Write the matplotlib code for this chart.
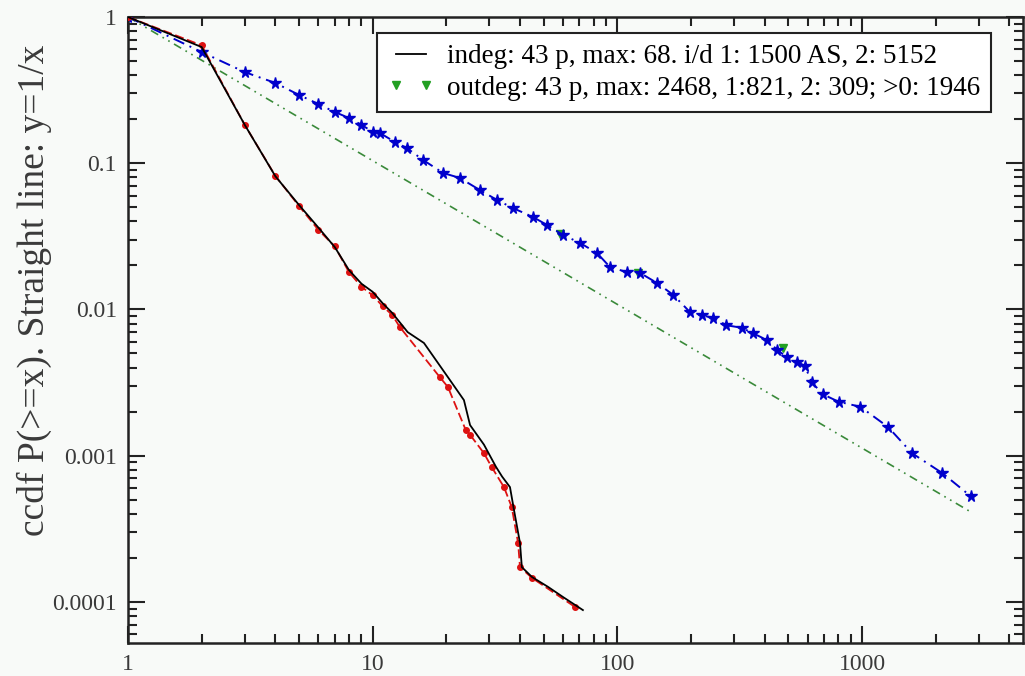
import matplotlib
matplotlib.use("Agg")
import matplotlib.pyplot as plt
from matplotlib.ticker import FixedLocator, FixedFormatter, LogLocator, NullFormatter

plt.rcParams['font.family'] = ['Liberation Serif', 'DejaVu Serif']

# ---- data ----
indeg_x = [1, 2, 3, 4, 5, 6, 7, 8, 9, 10, 11, 12, 13.9, 16.2, 21.1, 23.6, 25.0, 28.5,
           31.9, 33.8, 36.4, 37.8, 40.0, 40.7, 44.8, 52.0, 60.0, 72.3]
indeg_y = [1, 0.623, 0.183, 0.0816, 0.0518, 0.0363, 0.0267, 0.0186, 0.0150, 0.0132,
           0.0110, 0.0095, 0.0070, 0.0059, 0.00314, 0.0024, 0.00162, 0.00119,
           0.00084, 0.00072, 0.00061, 0.000426, 0.000253, 0.000173, 0.000148,
           0.000127, 0.000108, 0.000088]

indeg2_x = [1, 2, 3, 4, 5, 6, 7, 8, 9, 10, 11, 12, 12.9, 18.8, 20.3, 24.0, 25.0, 28.5,
            30.6, 34.4, 37.0, 39.3, 40.0, 44.8, 67.4]
indeg2_y = [1, 0.64, 0.183, 0.082, 0.051, 0.035, 0.027, 0.018, 0.0143, 0.0125, 0.0105,
            0.0092, 0.0076, 0.00345, 0.00295, 0.0015, 0.00139, 0.00104, 0.00084,
            0.00061, 0.000446, 0.000253, 0.000173, 0.000146, 0.000092]

outdeg2_x = [1, 2, 3, 4, 5, 6, 7, 8, 9, 10, 10.7, 12.3, 13.8, 16.1, 19.4, 22.7, 27.4,
             32.2, 37.4, 45.2, 51.6, 60.0, 70.4, 82.6, 93.3, 109.5, 123.7, 145, 169,
             198, 222, 245, 279, 322, 357, 407, 450, 494, 543, 584, 624, 692, 802, 985,
             1278, 1601, 2130, 2775]
outdeg2_y = [1, 0.576, 0.42, 0.354, 0.293, 0.254, 0.224, 0.204, 0.183, 0.164, 0.161,
             0.140, 0.127, 0.105, 0.0858, 0.0793, 0.0656, 0.0561, 0.0494, 0.0429,
             0.0378, 0.0323, 0.0285, 0.0243, 0.0195, 0.0180, 0.0178, 0.0152, 0.0126,
             0.0096, 0.0091, 0.0088, 0.0078, 0.0075, 0.0069, 0.0062, 0.0053, 0.0047,
             0.0044, 0.0041, 0.00317, 0.00263, 0.00234, 0.00216, 0.00157, 0.00104,
             0.00076, 0.00053]

outdeg_x = [58.3, 121.4, 475]
outdeg_y = [0.033, 0.0178, 0.00546]

ref_x = [1, 2800]
ref_y = [1, 4.1e-4]

x_ticks = [1, 10, 100, 1000]
x_ticklabels = ['1', '10', '100', '1000']
y_ticks = [1, 0.1, 0.01, 0.001, 0.0001]
y_ticklabels = ['1', '0.1', '0.01', '0.001', '0.0001']

label_indeg = 'indeg: 43 p, max: 68. i/d 1: 1500 AS, 2: 5152'
label_outdeg = 'outdeg: 43 p, max: 2468, 1:821, 2: 309; >0: 1946'
ylabel = 'ccdf P(>=x). Straight line: y=1/x'

# ---- figure ----
bg = '#f8faf8'
fig = plt.figure(figsize=(10.25, 6.76), dpi=100, facecolor=bg)
ax = fig.add_axes([128 / 1025, 33 / 676, 895 / 1025, 626 / 676])
ax.set_facecolor(bg)

ax.plot(ref_x, ref_y, color='#3a8a3a', lw=1.2, ls=(0, (5, 3, 1, 3, 1, 3)), zorder=2)
ax.plot(outdeg_x, outdeg_y, ls='none', marker='v', ms=6, color='#22a022',
        label=label_outdeg, zorder=3)
ax.plot(outdeg2_x, outdeg2_y, color='#0000cc', lw=1.4, ls=(0, (6, 3, 1, 3)),
        marker='*', ms=8.5, zorder=4)
ax.plot(indeg2_x, indeg2_y, color='#dd1111', lw=1.3, ls=(0, (5, 2)),
        marker='o', ms=4, zorder=5)
ax.plot(indeg_x, indeg_y, color='black', lw=1.3, ls='-', zorder=6, label=label_indeg)

ax.set_xscale('log')
ax.set_yscale('log')
ax.set_xlim(1, 4548)
ax.set_ylim(5.24e-5, 1)

ax.xaxis.set_major_locator(FixedLocator(x_ticks))
ax.xaxis.set_major_formatter(FixedFormatter(x_ticklabels))
ax.yaxis.set_major_locator(FixedLocator(y_ticks))
ax.yaxis.set_major_formatter(FixedFormatter(y_ticklabels))
ax.xaxis.set_minor_locator(LogLocator(base=10, subs=range(2, 10), numticks=20))
ax.yaxis.set_minor_locator(LogLocator(base=10, subs=range(2, 10), numticks=20))
ax.xaxis.set_minor_formatter(NullFormatter())
ax.yaxis.set_minor_formatter(NullFormatter())

ax.tick_params(which='both', direction='in', top=True, right=True, width=1.5,
               color='#222222', labelsize=17, labelcolor='#3a3a3a', pad=8)
ax.tick_params(which='major', length=12)
ax.tick_params(which='minor', length=6.5)
for s in ax.spines.values():
    s.set_linewidth(1.8)
    s.set_color('#222222')

ax.set_ylabel(ylabel, fontsize=27, color='#3a3a3a')
ax.yaxis.set_label_coords(-0.085, 0.564)

h, l = ax.get_legend_handles_labels()
leg = ax.legend(h[::-1], l[::-1], loc='upper left', bbox_to_anchor=(0.278, 0.974),
                borderaxespad=0, frameon=True, fancybox=False, framealpha=1,
                edgecolor='#222222', facecolor='white', fontsize=19.5,
                handlelength=1.7, handletextpad=0.5, numpoints=2,
                borderpad=0.4, labelspacing=0.25)
leg.get_frame().set_linewidth(1.5)

fig.savefig('out.png', dpi=100, facecolor=bg)
